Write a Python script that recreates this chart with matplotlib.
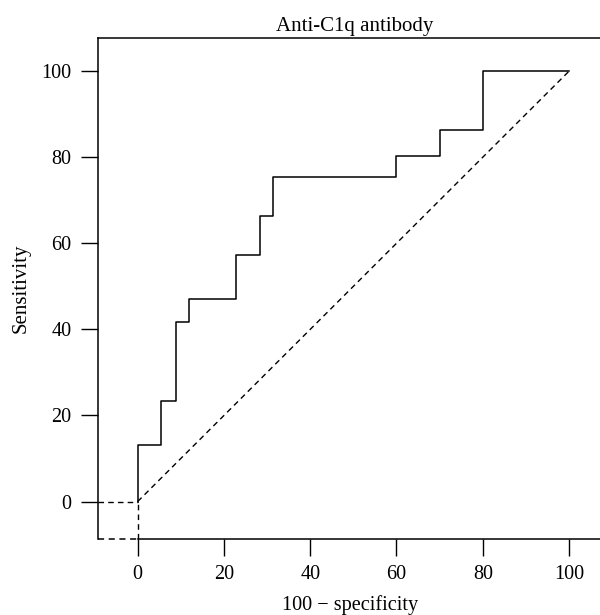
import matplotlib
matplotlib.use("Agg")
import matplotlib.pyplot as plt

# ROC curve points (100 - specificity, sensitivity)
fpr = [0, 0, 5.4, 8.9, 11.8, 22.7, 28.4, 31.4, 60, 70, 80, 100]
sens = [0, 13.1, 23.4, 41.6, 47.0, 57.3, 66.3, 75.4, 80.3, 86.4, 100, 100]
ticks = [0, 20, 40, 60, 80, 100]

plt.rcParams['font.family'] = ['Liberation Serif', 'DejaVu Serif']

fig = plt.figure(figsize=(6, 6.15), dpi=100)
ax = fig.add_axes([0.1633, 0.1236, 0.857, 0.8146])

xmin, xmax = -9.2, 110
ymin, ymax = -8.7, 107.7

ax.step(fpr, sens, where='post', color='black', lw=1.1)

# chance line and the dashed lead-ins at the origin
dash = (0, (4, 3))
ax.plot([0, 100], [0, 100], color='black', lw=1.0, linestyle=dash)
ax.plot([xmin, 0], [0, 0], color='black', lw=1.0, linestyle=dash)
ax.plot([0, 0], [ymin, 0], color='black', lw=1.0, linestyle=dash, clip_on=False)
ax.plot([xmin, 0], [ymin, ymin], color='black', lw=1.1, linestyle=dash, clip_on=False)

ax.set_xlim(xmin, xmax)
ax.set_ylim(ymin, ymax)
ax.set_xticks(ticks)
ax.set_yticks(ticks)
ax.tick_params(direction='out', length=12, width=1, labelsize=14.5, pad=7)

ax.spines['right'].set_visible(False)
ax.spines['bottom'].set_bounds(0, xmax)
for s in ['left', 'top', 'bottom']:
    ax.spines[s].set_linewidth(1.1)

ax.set_title('Anti-C1q antibody', fontsize=15, pad=5)
fig.text(350 / 600, 1 - 605 / 615, '100 \u2212 specificity', ha='center', va='center', fontsize=14.6)
fig.text(21 / 600, 1 - 288 / 615, 'Sensitivity', ha='center', va='center', rotation=90, fontsize=15)

fig.savefig('out.png', dpi=100)
